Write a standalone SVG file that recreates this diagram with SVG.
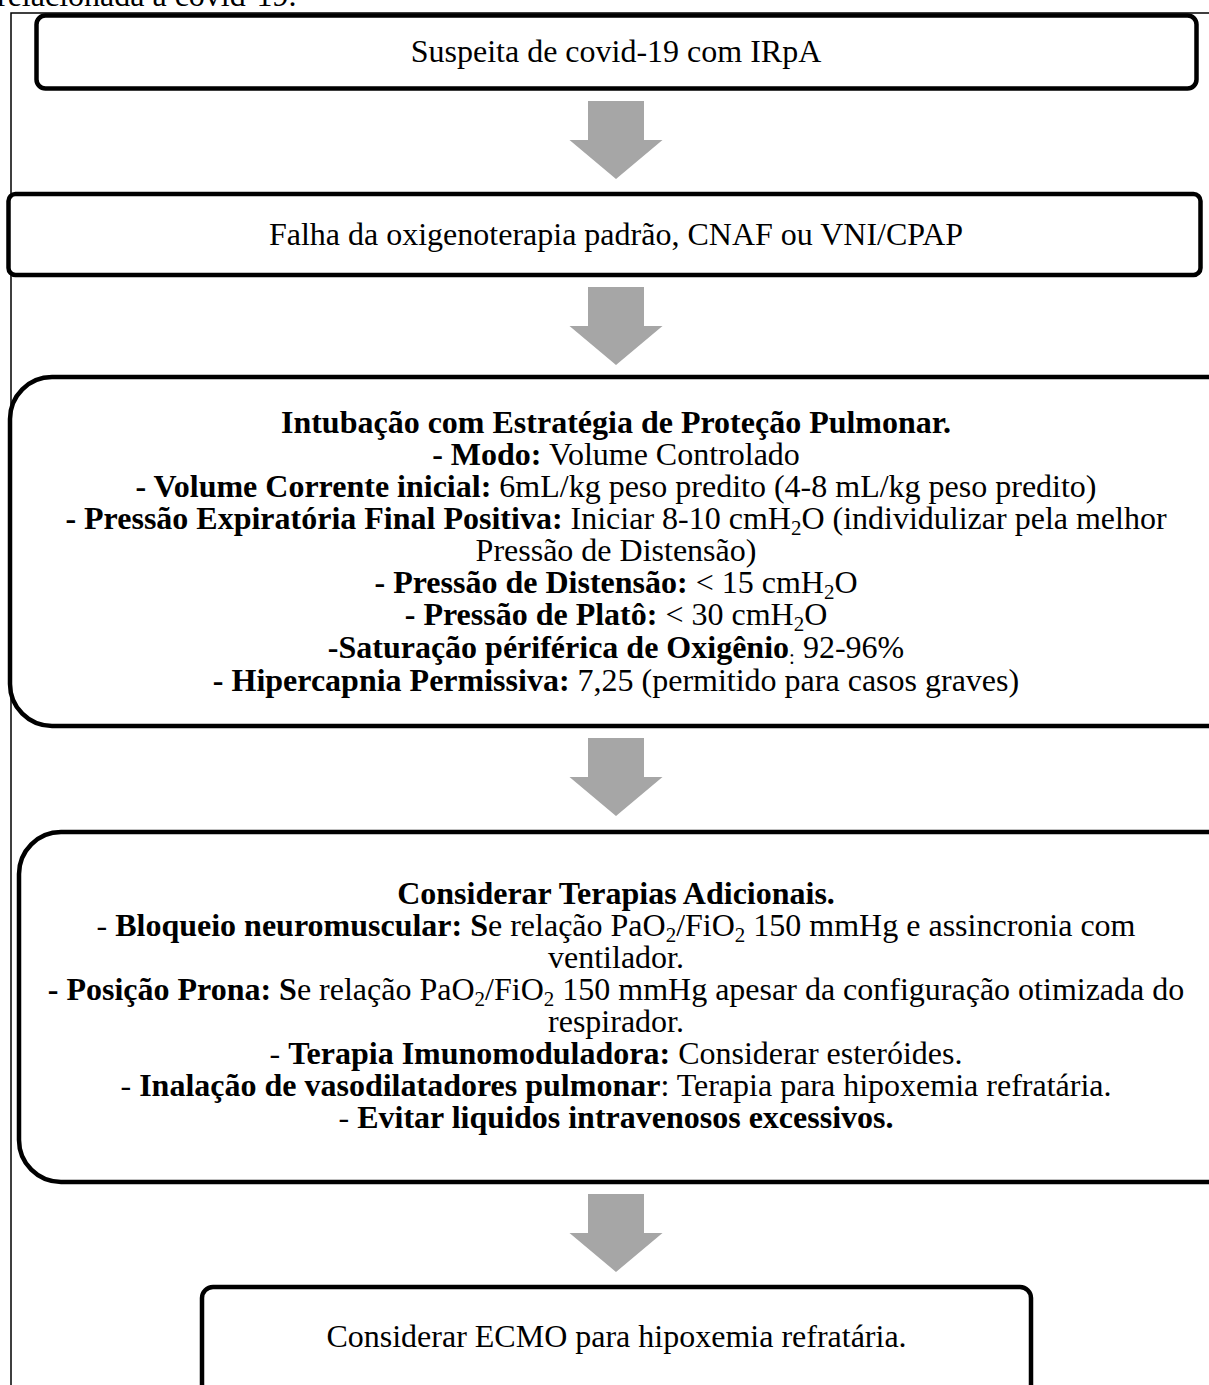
<svg xmlns="http://www.w3.org/2000/svg" width="1209" height="1385" viewBox="0 0 1209 1385">
<style>
text{font-family:"Liberation Serif","Times New Roman",serif;font-size:32px;fill:#000}
.c{text-anchor:middle}
.b{font-weight:bold}
.box{fill:#fff;stroke:#000;stroke-width:4.5}
.frame{fill:none;stroke:#000;stroke-width:1.5}
.arrow{fill:#a6a6a6;stroke:none}
</style>
<defs>
<path id="arr" d="M-28,0 H28 V39 H46.5 L0,78 L-46.5,39 H-28 Z"/>
</defs>
<rect width="1209" height="1385" fill="#fff"/>
<text x="-3" y="6">relacionada a covid-19.</text>
<path class="frame" d="M11,1385 V13 H1209"/>

<g id="node1">
<rect class="box" x="36.5" y="15.5" width="1160" height="73" rx="9"/>
<text class="c" x="616" y="62">Suspeita de covid-19 com IRpA</text>
</g>

<g id="node2">
<rect class="box" x="8.5" y="194" width="1192" height="81" rx="7"/>
<text class="c" x="616" y="245">Falha da oxigenoterapia padrão, CNAF ou VNI/CPAP</text>
</g>

<g id="node3">
<rect class="box" x="10" y="377" width="1240" height="349" rx="42"/>
<text class="c" x="616" y="433"><tspan class="b">Intubação com Estratégia de Proteção Pulmonar.</tspan></text>
<text class="c" x="616" y="465"><tspan class="b">- Modo:</tspan> Volume Controlado</text>
<text class="c" x="616" y="497"><tspan class="b">- Volume Corrente inicial:</tspan> 6mL/kg peso predito (4-8 mL/kg peso predito)</text>
<text class="c" x="616" y="529"><tspan class="b">- Pressão Expiratória Final Positiva:</tspan> Iniciar 8-10 cmH<tspan font-size="21" dy="6">2</tspan><tspan dy="-6">O (individulizar pela melhor</tspan></text>
<text class="c" x="616" y="561">Pressão de Distensão)</text>
<text class="c" x="616" y="593"><tspan class="b">- Pressão de Distensão:</tspan> &lt; 15 cmH<tspan font-size="21" dy="6">2</tspan><tspan dy="-6">O</tspan></text>
<text class="c" x="616" y="625"><tspan class="b">- Pressão de Platô:</tspan> &lt; 30 cmH<tspan font-size="21" dy="6">2</tspan><tspan dy="-6">O</tspan></text>
<text class="c" x="616" y="658"><tspan class="b">-Saturação périférica de Oxigênio</tspan><tspan font-size="21" dy="6">:</tspan><tspan dy="-6"> 92-96%</tspan></text>
<text class="c" x="616" y="691"><tspan class="b">- Hipercapnia Permissiva:</tspan> 7,25 (permitido para casos graves)</text>
</g>

<g id="node4">
<rect class="box" x="19" y="832" width="1230" height="350" rx="42"/>
<text class="c" x="616" y="904"><tspan class="b">Considerar Terapias Adicionais.</tspan></text>
<text class="c" x="616" y="936">- <tspan class="b">Bloqueio neuromuscular: S</tspan>e relação PaO<tspan font-size="21" dy="6">2</tspan><tspan dy="-6">/FiO</tspan><tspan font-size="21" dy="6">2</tspan><tspan dy="-6"> 150 mmHg e assincronia com</tspan></text>
<text class="c" x="616" y="968">ventilador.</text>
<text class="c" x="616" y="1000"><tspan class="b">- Posição Prona: S</tspan>e relação PaO<tspan font-size="21" dy="6">2</tspan><tspan dy="-6">/FiO</tspan><tspan font-size="21" dy="6">2</tspan><tspan dy="-6"> 150 mmHg apesar da configuração otimizada do</tspan></text>
<text class="c" x="616" y="1032">respirador.</text>
<text class="c" x="616" y="1064">- <tspan class="b">Terapia Imunomoduladora:</tspan> Considerar esteróides.</text>
<text class="c" x="616" y="1096">- <tspan class="b">Inalação de vasodilatadores pulmonar</tspan>: Terapia para hipoxemia refratária.</text>
<text class="c" x="616" y="1128">- <tspan class="b">Evitar liquidos intravenosos excessivos.</tspan></text>
</g>

<g id="node5">
<rect class="box" x="202" y="1287" width="829" height="140" rx="11"/>
<text class="c" x="616.5" y="1347">Considerar ECMO para hipoxemia refratária.</text>
</g>

<g id="connectors">
<use href="#arr" class="arrow" x="616" y="101"/>
<use href="#arr" class="arrow" x="616" y="287"/>
<use href="#arr" class="arrow" x="616" y="738"/>
<use href="#arr" class="arrow" x="616" y="1194"/>
</g>
</svg>
